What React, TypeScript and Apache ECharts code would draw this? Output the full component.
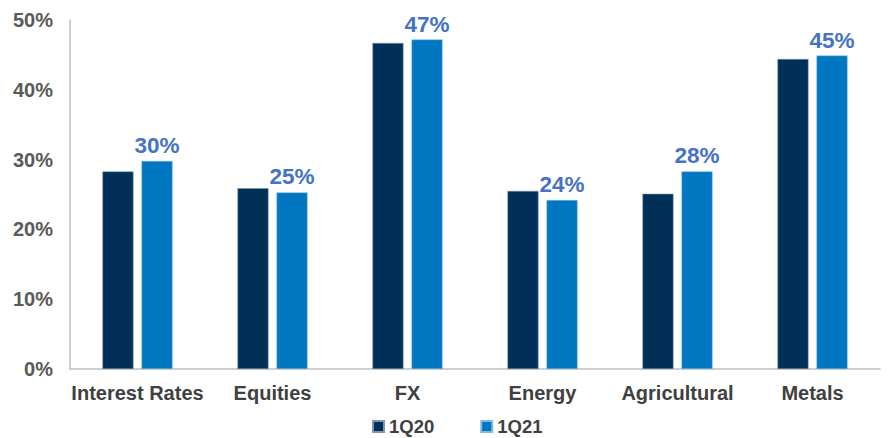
import React, { useEffect, useRef } from "react";
import * as echarts from "echarts";

const categories = ["Interest Rates", "Equities", "FX", "Energy", "Agricultural", "Metals"];
const series1Q20 = [28.3, 25.9, 46.7, 25.5, 25.1, 44.4];
const series1Q21 = [29.8, 25.3, 47.2, 24.2, 28.3, 44.9];
const yTicks = [0, 10, 20, 30, 40, 50];

export default function App() {
  const ref = useRef<HTMLDivElement>(null);
  useEffect(() => {
    if (!ref.current) return;
    const chart = echarts.init(ref.current, null, { renderer: "svg" });
    const font = "Liberation Sans, Arial, sans-serif";
    chart.setOption({
      animation: false,
      grid: { left: 70, right: 13, top: 20, bottom: 69 },
      legend: {
        top: 417,
        left: 372,
        padding: 0,
        itemWidth: 11,
        itemHeight: 11,
        itemGap: 46,
        icon: "rect",
        textStyle: { fontFamily: font, fontSize: 18.5, fontWeight: "bold", color: "#404040" },
        data: ["1Q20", "1Q21"],
      },
      xAxis: {
        type: "category",
        data: categories,
        axisLine: { lineStyle: { color: "#BFBFBF", width: 1.5 } },
        axisTick: { show: false },
        axisLabel: { interval: 0, fontFamily: font, fontSize: 20, fontWeight: "bold", color: "#404040", margin: 14 },
      },
      yAxis: {
        type: "value",
        min: yTicks[0],
        max: yTicks[yTicks.length - 1],
        interval: 10,
        axisLine: { show: true, lineStyle: { color: "#BFBFBF", width: 1.5 } },
        axisTick: { show: false },
        splitLine: { show: false },
        axisLabel: {
          fontFamily: font,
          fontSize: 20,
          fontWeight: "bold",
          color: "#595959",
          margin: 17,
          formatter: (v: number) => v + "%",
        },
      },
      series: [
        {
          name: "1Q20",
          type: "bar",
          data: series1Q20,
          barWidth: 31,
          barGap: "26%",
          itemStyle: { color: "#003057", borderColor: "#7f97ab", borderWidth: 0.5 },
        },
        {
          name: "1Q21",
          type: "bar",
          data: series1Q21,
          barWidth: 31,
          itemStyle: { color: "#0077C0", borderColor: "#7fbbe0", borderWidth: 0.5 },
          label: {
            show: true,
            position: "top",
            distance: 4,
            fontFamily: font,
            fontSize: 22.5,
            fontWeight: "bold",
            color: "#4472C4",
            formatter: (p: any) => Math.round(p.value) + "%",
          },
        },
      ],
    });
    return () => chart.dispose();
  }, []);
  return <div ref={ref} style={{ width: 893, height: 438, position: "absolute", left: 0, top: 0 }} />;
}
